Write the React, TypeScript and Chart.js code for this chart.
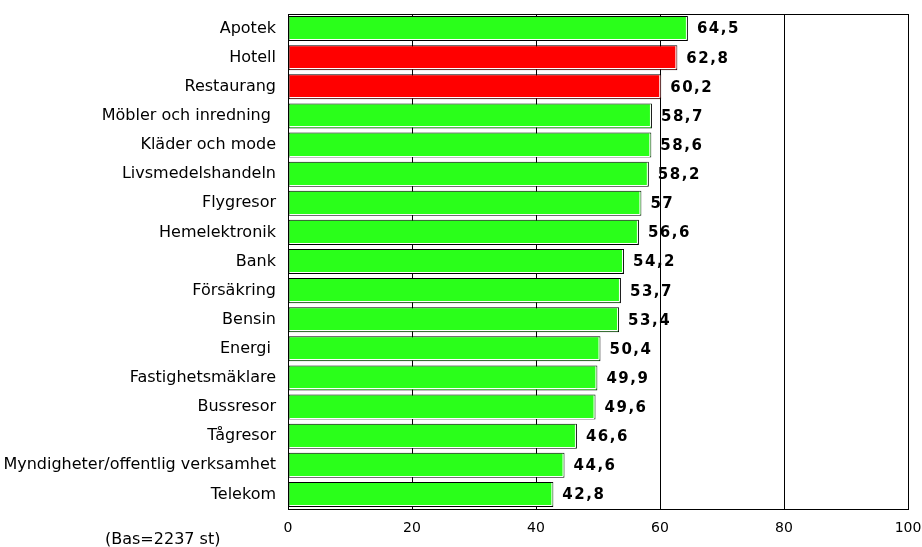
import React, { useEffect, useRef } from "react";
import { Chart, registerables } from "chart.js";

Chart.register(...registerables);

const categories = [
  "Apotek",
  "Hotell",
  "Restaurang",
  "Möbler och inredning ",
  "Kläder och mode",
  "Livsmedelshandeln",
  "Flygresor",
  "Hemelektronik",
  "Bank",
  "Försäkring",
  "Bensin",
  "Energi ",
  "Fastighetsmäklare",
  "Bussresor",
  "Tågresor",
  "Myndigheter/offentlig verksamhet",
  "Telekom",
];

const values = [64.5, 62.8, 60.2, 58.7, 58.6, 58.2, 57, 56.6, 54.2, 53.7, 53.4, 50.4, 49.9, 49.6, 46.6, 44.6, 42.8];

const highlighted = ["Hotell", "Restaurang"];

const xTicks = [0, 20, 40, 60, 80, 100];

const baseNote = "(Bas=2237 st)";

const GREEN = "#2aff1a";
const RED = "#ff0000";
const FONT = "'DejaVu Sans', Verdana, sans-serif";

export default function App() {
  const ref = useRef<HTMLCanvasElement | null>(null);

  useEffect(() => {
    if (!ref.current) return;

    const labelsPlugin = {
      id: "valueLabels",
      beforeDraw(chart: any) {
        const ctx = chart.ctx;
        const meta = chart.getDatasetMeta(0);
        ctx.save();
        ctx.font = `bold 15px ${FONT}`;
        (ctx as any).letterSpacing = "1.5px";
        ctx.fillStyle = "#000";
        ctx.textAlign = "left";
        ctx.textBaseline = "middle";
        meta.data.forEach((el: any, i: number) => {
          const v = values[i];
          const txt = String(v).replace(".", ",");
          ctx.fillText(txt, el.x + 9, el.y + 1);
        });
        ctx.restore();
      },
      afterDatasetsDraw(chart: any) {
        const ctx = chart.ctx;
        const meta = chart.getDatasetMeta(0);
        ctx.save();
        ctx.strokeStyle = "#ffffff";
        ctx.lineWidth = 1;
        meta.data.forEach((el: any) => {
          const top = el.y - el.height / 2;
          const bottom = el.y + el.height / 2;
          const left = Math.min(el.base, el.x);
          const right = Math.max(el.base, el.x);
          ctx.beginPath();
          ctx.moveTo(left + 1, Math.round(bottom) - 1.5);
          ctx.lineTo(right - 1.5, Math.round(bottom) - 1.5);
          ctx.lineTo(right - 1.5, top + 1);
          ctx.stroke();
        });
        ctx.restore();
      },
      afterDraw(chart: any) {
        const ctx = chart.ctx;
        const a = chart.chartArea;
        ctx.save();
        ctx.strokeStyle = "#000";
        ctx.lineWidth = 1;
        ctx.strokeRect(Math.round(a.left) + 0.5, Math.round(a.top) + 0.5, Math.round(a.right - a.left), Math.round(a.bottom - a.top));
        ctx.font = `16px ${FONT}`;
        ctx.fillStyle = "#000";
        ctx.textAlign = "left";
        ctx.textBaseline = "middle";
        ctx.fillText(baseNote, 105, 540);
        ctx.restore();
      },
    };

    const chart = new Chart(ref.current, {
      type: "bar",
      data: {
        labels: categories,
        datasets: [
          {
            data: values,
            backgroundColor: categories.map((c) => (highlighted.includes(c) ? RED : GREEN)),
            borderColor: "#000",
            borderWidth: 1,
            borderSkipped: false,
            categoryPercentage: 1,
            barPercentage: 0.86,
          },
        ],
      },
      options: {
        indexAxis: "y",
        animation: false,
        responsive: false,
        devicePixelRatio: 1,
        layout: { padding: { left: 0, right: 14, top: 14, bottom: 0 } },
        plugins: {
          legend: { display: false },
          tooltip: { enabled: false },
        },
        scales: {
          x: {
            min: 0,
            max: 100,
            afterBuildTicks: (s: any) => {
              s.ticks = xTicks.map((v) => ({ value: v }));
            },
            afterFit: (s: any) => {
              s.height = 38;
              s.paddingLeft = 0;
              s.paddingRight = 0;
            },
            grid: { display: true, color: "#000", lineWidth: 1, drawTicks: false },
            border: { display: true, color: "#000", width: 1 },
            ticks: {
              padding: 11,
              color: "#000",
              font: { family: FONT, size: 14 },
              maxRotation: 0,
              autoSkip: false,
            },
          },
          y: {
            afterFit: (s: any) => {
              s.width = 288;
              s.paddingTop = 0;
              s.paddingBottom = 0;
            },
            grid: { display: false, drawTicks: false },
            border: { display: true, color: "#000", width: 1 },
            ticks: {
              padding: 12,
              color: "#000",
              autoSkip: false,
              font: { family: FONT, size: 16 },
            },
          },
        },
      },
      plugins: [labelsPlugin],
    });

    return () => chart.destroy();
  }, []);

  return (
    <div style={{ position: "absolute", left: 0, top: 0, width: 922, height: 547, background: "#fff" }}>
      <canvas ref={ref} width={922} height={547} style={{ display: "block", width: 922, height: 547 }} />
    </div>
  );
}
